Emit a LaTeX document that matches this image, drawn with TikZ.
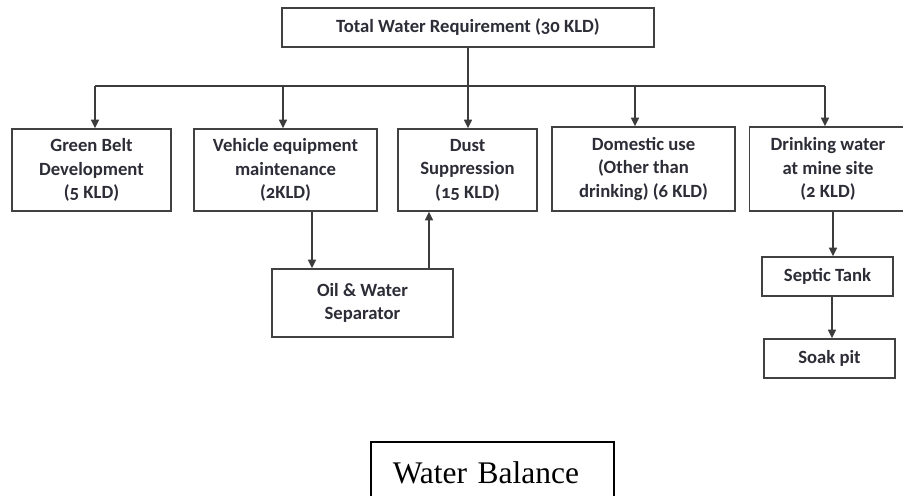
\documentclass[tikz,border=0pt]{standalone}
\usepackage{fontspec}
\setmainfont{Carlito}[Numbers=OldStyle]
\newfontfamily\capfont{Liberation Serif}
\usetikzlibrary{arrows.meta}

\tikzset{
  blk/.style={draw={rgb, 255:red, 65; green, 65; blue, 65 }, line width=1.1pt, fill=white, inner sep=0pt, align=center,
    text={rgb, 255:red, 45; green, 45; blue, 55 }, font=\bfseries\fontsize{14}{17.6}\selectfont},
  wire/.style={draw={rgb, 255:red, 60; green, 60; blue, 60 }, line width=1.1pt},
  flow/.style={wire, -{Triangle[length=6.5pt,width=6pt]}},
}

\begin{document}
\begin{tikzpicture}[x=0.75pt,y=0.75pt,yscale=-1,xscale=1]
\useasboundingbox (0,0) rectangle (903,496);

% Top box
\node[blk, minimum width=279pt, minimum height=29.25pt] (total) at (468,27.5) {Total Water Requirement (30 KLD)};

% Uses
\node[blk, minimum width=119.25pt, minimum height=61.5pt] (green) at (91.5,170) {Green Belt\\Development\\(5 KLD)};
\node[blk, minimum width=137.25pt, minimum height=61.5pt] (vehicle) at (285.5,170) {Vehicle equipment\\maintenance\\(2KLD)};
\node[blk, minimum width=104.25pt, minimum height=61.5pt] (dust) at (467.5,170) {Dust\\Suppression\\(15 KLD)};
\node[blk, minimum width=137.25pt, minimum height=63pt] (domestic) at (643.5,169) {Domestic use\\(Other than\\drinking) (6 KLD)};
\node[blk, minimum width=117.75pt, minimum height=63pt] (drinking) at (828,169) {Drinking water\\at mine site\\(2 KLD)};

% Treatment
\node[blk, minimum width=135.75pt, minimum height=51pt] (oil) at (362.5,303) {Oil \& Water\\Separator};
\node[blk, minimum width=98.25pt, minimum height=29.25pt] (septic) at (827.5,276.5) {Septic Tank};
\node[blk, minimum width=98.25pt, minimum height=29.25pt] (soak) at (829.5,358.5) {Soak pit};

% Caption
\node[draw, line width=1.2pt, anchor=north west, inner xsep=16.5pt, inner ysep=14.6pt, text depth=0pt,
  text width=149.25pt, align=left, font=\capfont\fontsize{23.6}{28}\selectfont] (cap) at (370,441) {Water Balance};

% Bus line
\coordinate (bus1) at (95,86);
\coordinate (bus2) at (283,86);
\coordinate (bus4) at (635,86);
\coordinate (bus5) at (825,86);
\draw[wire] (bus1) -- (bus5);
\draw[wire] (total.south) -- (total.south |- bus1);
\draw[flow] (total.south) -- (total.south |- dust.north);
\draw[flow] (bus1) -- (bus1 |- green.north);
\draw[flow] (bus2) -- (bus2 |- vehicle.north);
\draw[flow] (bus4) -- (bus4 |- domestic.north);
\draw[flow] (bus5) -- (bus5 |- drinking.north);

% Drops below
\coordinate (vo) at (312,0);
\coordinate (od) at (429,0);
\coordinate (ds) at (833,0);
\coordinate (ss) at (832,0);
\draw[flow] (vo |- vehicle.south) -- (vo |- oil.north);
\draw[flow] (od |- oil.north) -- (od |- dust.south);
\draw[flow] (ds |- drinking.south) -- (ds |- septic.north);
\draw[flow] (ss |- septic.south) -- (ss |- soak.north);

\end{tikzpicture}
\end{document}
